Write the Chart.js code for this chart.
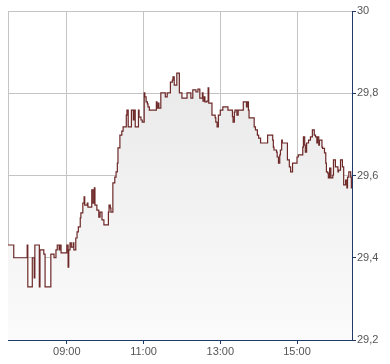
<!DOCTYPE html>
<html>
<head>
<meta charset="utf-8">
<script src="https://cdn.jsdelivr.net/npm/chart.js@4.4.1/dist/chart.umd.min.js"></script>
<style>
    html, body { margin: 0; padding: 0; background: #fff; }
    #wrap { width: 390px; height: 364px; }
</style>
</head>
<body>
<div id="wrap"><canvas id="price-chart" width="390" height="364"></canvas></div>
<script>
const axisStart = '07:28';
const axisEnd = '16:26';
const xTickLabels = ['09:00', '11:00', '13:00', '15:00'];
const yTickValues = [29.2, 29.4, 29.6, 29.8, 30];

const times = [
    '07:28', '07:37', '07:58', '07:59', '08:06', '08:09', '08:10', '08:17', '08:18', '08:24',
    '08:26', '08:35', '08:40', '08:43', '08:45', '08:48', '08:49', '08:51', '09:00', '09:02',
    '09:03', '09:05', '09:07', '09:10', '09:11', '09:14', '09:16', '09:18', '09:21', '09:22',
    '09:25', '09:27', '09:28', '09:32', '09:33', '09:39', '09:41', '09:43', '09:44', '09:47',
    '09:50', '09:52', '09:55', '09:58', '10:05', '10:06', '10:08', '10:09', '10:12', '10:15',
    '10:17', '10:19', '10:20', '10:23', '10:26', '10:28', '10:33', '10:34', '10:36', '10:41',
    '10:44', '10:45', '10:47', '10:52', '10:53', '10:56', '10:58', '11:01', '11:02', '11:04',
    '11:06', '11:07', '11:09', '11:20', '11:21', '11:23', '11:24', '11:27', '11:34', '11:37',
    '11:42', '11:45', '11:46', '11:48', '11:52', '11:56', '12:00', '12:08', '12:14', '12:17',
    '12:22', '12:25', '12:28', '12:32', '12:33', '12:35', '12:36', '12:39', '12:41', '12:42',
    '12:47', '12:52', '12:53', '12:55', '12:57', '13:00', '13:04', '13:12', '13:19', '13:20',
    '13:22', '13:23', '13:26', '13:28', '13:36', '13:41', '13:42', '13:44', '13:45', '13:53',
    '13:55', '13:58', '14:00', '14:03', '14:14', '14:22', '14:23', '14:24', '14:28', '14:29',
    '14:31', '14:33', '14:34', '14:36', '14:37', '14:45', '14:48', '14:50', '14:53', '15:00',
    '15:02', '15:09', '15:10', '15:12', '15:13', '15:15', '15:18', '15:21', '15:24', '15:27',
    '15:29', '15:31', '15:32', '15:34', '15:35', '15:39', '15:40', '15:43', '15:45', '15:46',
    '15:48', '15:49', '15:51', '15:53', '15:56', '15:57', '16:00', '16:04', '16:05', '16:08',
    '16:11', '16:13', '16:16', '16:18', '16:19', '16:21', '16:24', '16:25', '16:26'
];

const prices = [
    29.431, 29.400, 29.431, 29.329, 29.400, 29.351, 29.431, 29.329, 29.419, 29.409,
    29.329, 29.409, 29.400, 29.419, 29.431, 29.419, 29.431, 29.412, 29.431, 29.377,
    29.419, 29.436, 29.426, 29.436, 29.419, 29.448, 29.463, 29.475, 29.497, 29.509,
    29.533, 29.548, 29.528, 29.533, 29.523, 29.565, 29.533, 29.570, 29.528, 29.516,
    29.499, 29.511, 29.492, 29.480, 29.511, 29.528, 29.521, 29.511, 29.582, 29.596,
    29.609, 29.630, 29.667, 29.698, 29.708, 29.718, 29.747, 29.759, 29.718, 29.759,
    29.735, 29.759, 29.718, 29.759, 29.742, 29.735, 29.730, 29.801, 29.791, 29.779,
    29.774, 29.767, 29.759, 29.779, 29.764, 29.776, 29.764, 29.801, 29.791, 29.801,
    29.827, 29.832, 29.840, 29.820, 29.849, 29.801, 29.788, 29.801, 29.788, 29.808,
    29.803, 29.810, 29.788, 29.801, 29.781, 29.791, 29.779, 29.781, 29.813, 29.776,
    29.747, 29.740, 29.730, 29.718, 29.747, 29.759, 29.767, 29.759, 29.743, 29.730,
    29.754, 29.759, 29.747, 29.759, 29.779, 29.767, 29.779, 29.759, 29.740, 29.718,
    29.711, 29.698, 29.691, 29.679, 29.698, 29.686, 29.669, 29.662, 29.657, 29.645,
    29.630, 29.650, 29.662, 29.686, 29.679, 29.638, 29.621, 29.609, 29.630, 29.645,
    29.650, 29.669, 29.694, 29.674, 29.657, 29.679, 29.686, 29.694, 29.711, 29.698,
    29.694, 29.679, 29.694, 29.674, 29.686, 29.669, 29.666, 29.655, 29.630, 29.609,
    29.606, 29.594, 29.618, 29.594, 29.601, 29.638, 29.621, 29.609, 29.613, 29.638,
    29.621, 29.577, 29.589, 29.570, 29.596, 29.609, 29.596, 29.570, 29.570
];

function toMinutes(hhmm) {
    const [h, m] = String(hhmm).split(':').map(Number);
    return h * 60 + m;
}

function fmtClock(minutes) {
    const h = Math.floor(minutes / 60);
    const m = minutes % 60;
    return `${String(h).padStart(2, '0')}:${String(m).padStart(2, '0')}`;
}

function fmtPrice(value) {
    const rounded = Math.round(value * 10) / 10;
    return (Number.isInteger(rounded) ? String(rounded) : rounded.toFixed(1)).replace('.', ',');
}

function fillGradient(context) {
    const area = context.chart.chartArea;
    if (!area) return '#eeeeee';
    const g = context.chart.ctx.createLinearGradient(0, area.top, 0, area.bottom);
    g.addColorStop(0, '#e5e5e5');
    g.addColorStop(1, '#fbfbfb');
    return g;
}

const axisColor = '#1d3a68';
const gridColor = '#c4c4c4';
const labelFont = { family: "'Liberation Sans', Arial, sans-serif", size: 11 };

const points = times.map((t, i) => ({ x: toMinutes(t), y: prices[i] }));
const xStart = toMinutes(axisStart);

new Chart(document.getElementById('price-chart'), {
    type: 'line',
    data: {
        datasets: [
            {
                data: points,
                stepped: 'before',
                borderColor: '#6e2828',
                borderWidth: 1.2,
                pointRadius: 0,
                fill: 'start',
                backgroundColor: fillGradient
            }
        ]
    },
    options: {
        responsive: false,
        animation: false,
        devicePixelRatio: 1,
        layout: { padding: { left: 8, top: 11, right: 0, bottom: 0 } },
        plugins: {
            legend: { display: false },
            tooltip: { enabled: false }
        },
        scales: {
            x: {
                type: 'linear',
                min: xStart,
                max: toMinutes(axisEnd),
                afterBuildTicks: (scale) => {
                    scale.ticks = [xStart, ...xTickLabels.map(toMinutes)].map((v) => ({ value: v }));
                },
                afterFit: (scale) => { scale.height = 24; },
                grid: {
                    color: gridColor,
                    lineWidth: 1,
                    tickLength: 4,
                    tickColor: (ctx) => (ctx.index === 0 ? 'rgba(0,0,0,0)' : axisColor)
                },
                border: { color: axisColor, width: 1 },
                ticks: {
                    autoSkip: false,
                    maxRotation: 0,
                    padding: 1,
                    color: '#555555',
                    font: labelFont,
                    callback: (value) => (value === xStart ? '' : fmtClock(value))
                }
            },
            y: {
                position: 'right',
                min: yTickValues[0],
                max: yTickValues[yTickValues.length - 1],
                afterBuildTicks: (scale) => {
                    scale.ticks = yTickValues.map((v) => ({ value: v }));
                },
                afterFit: (scale) => { scale.width = 38; },
                grid: {
                    color: gridColor,
                    lineWidth: 1,
                    tickLength: 4,
                    tickColor: axisColor
                },
                border: { color: axisColor, width: 1 },
                ticks: {
                    padding: 1,
                    color: '#555555',
                    font: labelFont,
                    callback: (value) => fmtPrice(value)
                }
            }
        }
    }
});
</script>
</body>
</html>
